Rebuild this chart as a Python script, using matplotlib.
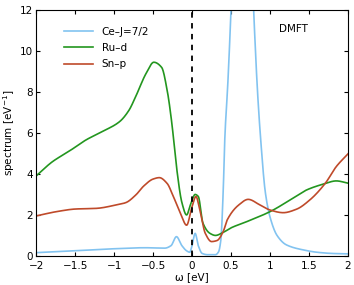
import numpy as np
import matplotlib
matplotlib.use("Agg")
import matplotlib.pyplot as plt

# Ce-J=7/2 spectrum
ce_w = [-2.0, -1.5, -1.0, -0.6, -0.35, -0.27, -0.2, -0.13, -0.07, -0.03, 0.0, 0.04,
        0.08, 0.13, 0.2, 0.3, 0.34, 0.37, 0.40, 0.42, 0.46, 0.50, 0.55, 0.62, 0.68,
        0.74, 0.79, 0.84, 0.88, 0.94, 1.0, 1.09, 1.21, 1.43, 1.6, 1.8, 2.0]
ce_a = [0.16, 0.25, 0.35, 0.40, 0.38, 0.5, 0.94, 0.5, 0.25, 0.18, 0.5, 1.1,
        0.5, 0.12, 0.06, 0.06, 0.2, 0.8, 3.2, 5.7, 8.5, 12.0, 17.0, 22.0, 22.0,
        17.0, 12.0, 8.0, 5.7, 3.1, 1.9, 1.0, 0.54, 0.29, 0.18, 0.12, 0.1]

# Ru-d spectrum
ru_w = [-2.0, -1.79, -1.58, -1.36, -1.15, -0.93, -0.81, -0.72, -0.59, -0.49, -0.39,
        -0.32, -0.26, -0.2, -0.13, -0.07, -0.02, 0.04, 0.08, 0.14, 0.23, 0.3, 0.4,
        0.5, 0.7, 1.0, 1.3, 1.47, 1.68, 1.85, 2.0]
ru_a = [3.9, 4.6, 5.1, 5.66, 6.07, 6.55, 7.1, 7.8, 8.9, 9.45, 9.2,
        8.1, 6.5, 4.36, 2.6, 2.0, 2.5, 3.0, 2.9, 1.6, 1.1, 1.0, 1.15,
        1.37, 1.67, 2.16, 2.83, 3.22, 3.5, 3.66, 3.55]

# Sn-p spectrum
sn_w = [-2.0, -1.74, -1.49, -1.23, -0.97, -0.85, -0.72, -0.62, -0.5, -0.42, -0.32,
        -0.24, -0.15, -0.07, 0.0, 0.05, 0.1, 0.17, 0.25, 0.32, 0.4, 0.45, 0.6,
        0.72, 0.87, 1.0, 1.17, 1.34, 1.51, 1.71, 1.85, 2.0]
sn_a = [1.95, 2.16, 2.29, 2.32, 2.49, 2.6, 2.98, 3.41, 3.75, 3.82, 3.54,
        2.9, 2.1, 1.5, 2.4, 2.9, 2.24, 1.1, 0.7, 0.75, 1.19, 1.75, 2.49,
        2.76, 2.49, 2.24, 2.11, 2.28, 2.73, 3.55, 4.36, 4.98]


def pchip(xs, ys, x):
    # monotone cubic (Fritsch-Carlson) so the curves look smooth
    xs, ys = np.asarray(xs, float), np.asarray(ys, float)
    h = np.diff(xs)
    d = np.diff(ys) / h
    m = np.zeros_like(ys)
    for k in range(1, len(xs) - 1):
        if d[k - 1] * d[k] > 0:
            w1 = 2 * h[k] + h[k - 1]
            w2 = h[k] + 2 * h[k - 1]
            m[k] = (w1 + w2) / (w1 / d[k - 1] + w2 / d[k])
    m[0], m[-1] = d[0], d[-1]
    i = np.clip(np.searchsorted(xs, x) - 1, 0, len(xs) - 2)
    t = (x - xs[i]) / h[i]
    h00 = 2 * t**3 - 3 * t**2 + 1
    h10 = t**3 - 2 * t**2 + t
    h01 = -2 * t**3 + 3 * t**2
    h11 = t**3 - t**2
    return h00 * ys[i] + h10 * h[i] * m[i] + h01 * ys[i + 1] + h11 * h[i] * m[i + 1]


w = np.linspace(-2, 2, 1601)

plt.rcParams['font.size'] = 7.5
fig = plt.figure(figsize=(3.54, 2.85), dpi=100)
ax = fig.add_axes([0.102, 0.102, 0.881, 0.863])

ax.plot(w, pchip(ce_w, ce_a, w), color='#82c3f0', lw=1.2, label='Ce\u2013J=7/2')
ax.plot(w, pchip(ru_w, ru_a, w), color='#23961f', lw=1.2, label='Ru\u2013d')
ax.plot(w, pchip(sn_w, sn_a, w), color='#bf4a2a', lw=1.2, label='Sn\u2013p')
ax.axvline(0, color='k', ls='--', lw=1.3, dashes=(3, 3))

ax.set_xlim(-2, 2)
ax.set_ylim(0, 12)
ax.set_xticks(np.arange(-2, 2.01, 0.5))
ax.set_xticklabels(['\u22122', '\u22121.5', '\u22121', '\u22120.5', '0', '0.5', '1', '1.5', '2'])
ax.set_yticks(range(0, 13, 2))
ax.tick_params(direction='in', top=True, right=True, labelsize=7.5, length=3, width=0.8)
ax.tick_params(axis='x', pad=4)
ax.tick_params(axis='y', pad=2.5)
ax.set_xlabel('\u03c9 [eV]', fontsize=7.5, labelpad=0.5)
ax.set_ylabel('spectrum [eV$^{-1}$]', fontsize=7.5, labelpad=2)

ax.text(0.78, 0.91, 'DMFT', transform=ax.transAxes, fontsize=7.5)
ax.legend(loc='upper left', bbox_to_anchor=(0.06, 0.97), frameon=False, fontsize=7.5,
          handlelength=2.8, labelspacing=0.6)

fig.savefig('out.png', dpi=100)
